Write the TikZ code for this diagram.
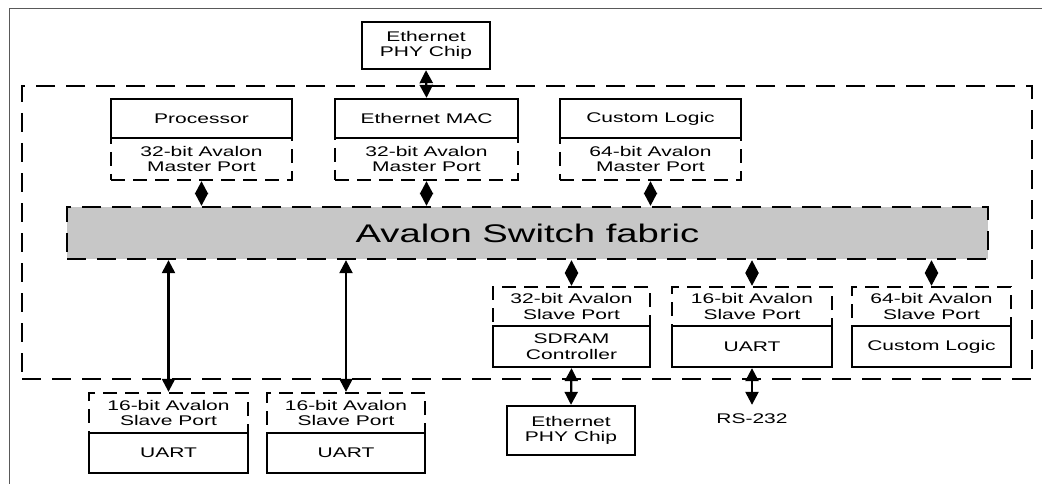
\documentclass[tikz,border=0pt]{standalone}
\usepackage{fontspec}
\setmainfont{Liberation Sans}[FakeStretch=1.5]
\usetikzlibrary{arrows.meta}
\tikzset{
  solidbox/.style={draw, line width=2.3pt, inner sep=0pt, align=center, font=\fontsize{14}{15.5}\selectfont},
  portbox/.style={draw, line width=2.3pt, dash pattern=on 14pt off 8pt, inner sep=0pt, align=center, font=\fontsize{14}{15.5}\selectfont},
  outerbox/.style={draw, line width=2.3pt, dash pattern=on 19pt off 11pt},
  fabricbox/.style={draw, fill=black!22, line width=2.3pt, dash pattern=on 19pt off 11pt, inner sep=0pt, font=\fontsize{25.5}{28}\selectfont},
  bidir/.style={line width=2.3pt, {Triangle[length=13pt,width=13pt]}-{Triangle[length=13pt,width=13pt]}},
  plain/.style={inner sep=0pt, font=\fontsize{14}{15.5}\selectfont},
  frameline/.style={draw=black!65, line width=1pt}
}
\begin{document}
\begin{tikzpicture}[x=1pt,y=-1pt]
\useasboundingbox (0,0) rectangle (1042,484);
% frame
\coordinate (f1) at (9,484);
\coordinate (f2) at (9,9);
\coordinate (f3) at (1042,9);
\draw[frameline] (f1) -- (f2) -- (f3);
% outer dashed region
\node[outerbox, minimum width=1010pt, minimum height=293pt, inner sep=0pt] (outer) at (527,232.5) {};
% top PHY
\node[solidbox, minimum width=128pt, minimum height=47pt] (phytop) at (426,45.5) {Ethernet\\PHY Chip};
% master ports (dashed) then components (solid)
\node[portbox, minimum width=181pt, minimum height=42pt] (mp1) at (201.5,159) {32-bit Avalon\\Master Port};
\node[portbox, minimum width=183pt, minimum height=42pt] (mp2) at (426.5,159) {32-bit Avalon\\Master Port};
\node[portbox, minimum width=181pt, minimum height=42pt] (mp3) at (650.5,159) {64-bit Avalon\\Master Port};
\node[solidbox, fill=white, minimum width=181pt, minimum height=39pt] (proc) at (201.5,118.5) {Processor};
\node[solidbox, fill=white, minimum width=183pt, minimum height=39pt] (mac) at (426.5,118.5) {Ethernet MAC};
\node[solidbox, fill=white, minimum width=181pt, minimum height=39pt] (cl1) at (650.5,118.5) {Custom Logic};
% fabric
\node[fabricbox, minimum width=921pt, minimum height=52pt] (fab) at (527.5,233) {Avalon Switch fabric};
% right slave ports
\node[portbox, minimum width=157pt, minimum height=39pt] (sp1) at (571.5,306.5) {32-bit Avalon\\Slave Port};
\node[portbox, minimum width=160pt, minimum height=39pt] (sp2) at (752,306.5) {16-bit Avalon\\Slave Port};
\node[portbox, minimum width=159pt, minimum height=39pt] (sp3) at (931.5,306.5) {64-bit Avalon\\Slave Port};
\node[solidbox, fill=white, minimum width=157pt, minimum height=41pt] (sdram) at (571.5,346.5) {SDRAM\\Controller};
\node[solidbox, fill=white, minimum width=160pt, minimum height=41pt] (uart3) at (752,346.5) {UART};
\node[solidbox, fill=white, minimum width=159pt, minimum height=41pt] (cl2) at (931.5,346.5) {Custom Logic};
% lower left slave ports
\node[portbox, minimum width=159pt, minimum height=40pt] (lp1) at (168.5,413) {16-bit Avalon\\Slave Port};
\node[portbox, minimum width=158pt, minimum height=40pt] (lp2) at (346,413) {16-bit Avalon\\Slave Port};
\node[solidbox, fill=white, minimum width=159pt, minimum height=40pt] (uart1) at (168.5,453) {UART};
\node[solidbox, fill=white, minimum width=158pt, minimum height=40pt] (uart2) at (346,453) {UART};
% bottom PHY and RS-232
\node[solidbox, minimum width=128pt, minimum height=49pt] (phybot) at (571,430.5) {Ethernet\\PHY Chip};
\node[plain, inner ysep=9pt] (rs) at (752,419) {RS-232};
% connectors
\draw[bidir] (phytop.south) -- (mac.north);
\draw[bidir] (mp1.south) -- (mp1.south |- fab.north);
\draw[bidir] (mp2.south) -- (mp2.south |- fab.north);
\draw[bidir] (mp3.south) -- (mp3.south |- fab.north);
\draw[bidir] (sp1.north |- fab.south) -- (sp1.north);
\draw[bidir] (sp2.north |- fab.south) -- (sp2.north);
\draw[bidir] (sp3.north |- fab.south) -- (sp3.north);
\draw[bidir] (lp1.north |- fab.south) -- (lp1.north);
\draw[bidir] (lp2.north |- fab.south) -- (lp2.north);
\draw[bidir] (sdram.south) -- (phybot.north);
\draw[bidir] (uart3.south) -- (rs.north);
\end{tikzpicture}
\end{document}
